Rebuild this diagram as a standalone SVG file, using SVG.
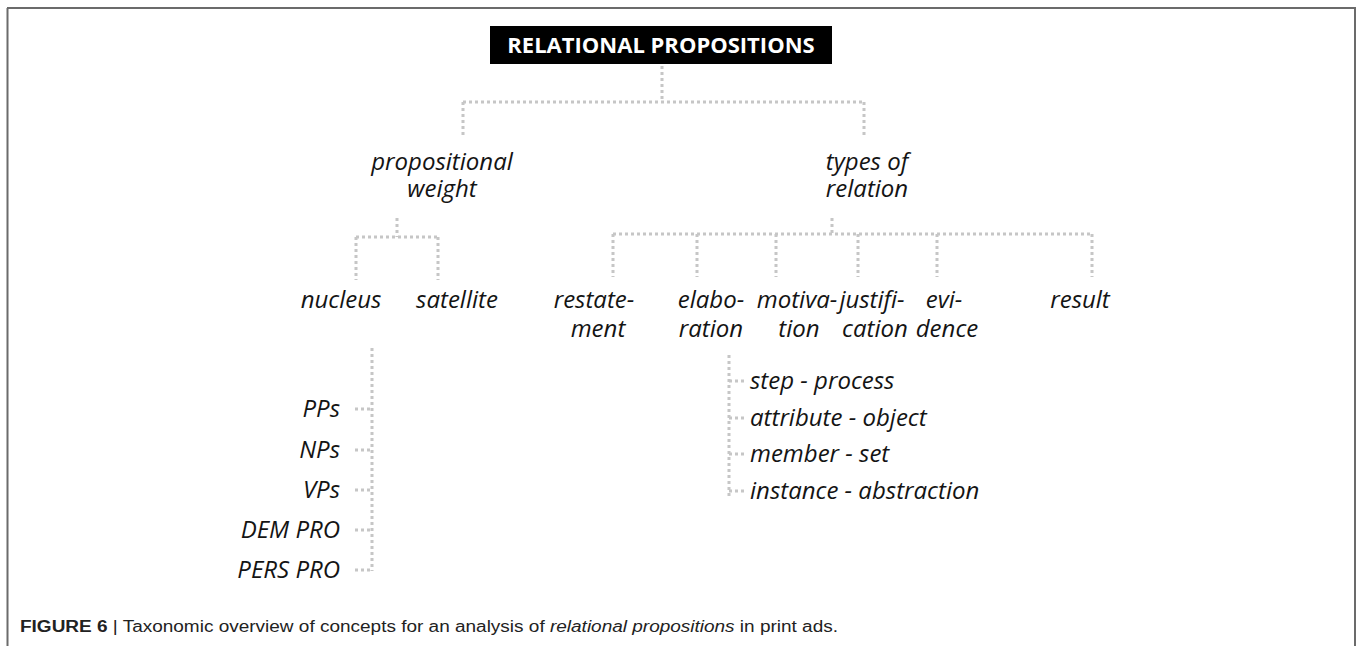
<svg xmlns="http://www.w3.org/2000/svg" width="1357" height="646" viewBox="0 0 1357 646">
  <style>
    .frame { stroke: #6b6b6b; stroke-width: 2; fill: none; }
    .dot { stroke: #c6c6c6; stroke-width: 3; stroke-dasharray: 3 3; fill: none; }
    .lbl { font-family: "Open Sans", "Noto Sans", sans-serif; font-style: italic; font-size: 24px; fill: #141414; }
    .mid { text-anchor: middle; }
    .end { text-anchor: end; }
    .title { font-family: "Open Sans", "Noto Sans", sans-serif; font-weight: bold; font-size: 22px; fill: #ffffff; text-anchor: middle; }
    .cap { font-family: "Liberation Sans", Arial, sans-serif; font-size: 16px; fill: #222222; }
  </style>

  <!-- page frame -->
  <g id="frame">
    <line class="frame" x1="7" y1="8" x2="1356" y2="8" stroke="#444"/>
    <line class="frame" x1="7.5" y1="8" x2="7.5" y2="646"/>
    <line class="frame" x1="1355" y1="8" x2="1355" y2="646"/>
  </g>

  <!-- dotted tree connectors -->
  <g id="connectors">
    <!-- root split -->
    <path class="dot" d="M662 66 V102 M463 102 H864 M463 102 V138 M864 102 V138"/>
    <!-- propositional weight -> nucleus / satellite -->
    <path class="dot" d="M397 218 V237 M356 237 H438 M356 237 V280 M438 237 V280"/>
    <!-- types of relation -> six relations -->
    <path class="dot" d="M832 218 V234 M613 234 H1092 M613 234 V277 M697 234 V277 M776 234 V277 M858 234 V277 M937 234 V277 M1092 234 V277"/>
    <!-- nucleus -> phrase types -->
    <path class="dot" d="M372 348 V571 M355 409 H372 M355 450 H372 M355 490 H372 M355 530 H372 M355 570 H372"/>
    <!-- elaboration -> subtypes -->
    <path class="dot" d="M729 355 V498 M729 381 H745 M729 418 H745 M729 454 H745 M729 491 H745"/>
  </g>

  <g id="root">
    <rect x="490" y="26" width="342" height="38" fill="#000"/>
    <text class="title" x="661" y="53">RELATIONAL PROPOSITIONS</text>
  </g>

  <g id="propositional-weight">
    <text class="lbl mid" x="442" y="170">propositional</text>
    <text class="lbl mid" x="442" y="197">weight</text>
  </g>
  <g id="types-of-relation">
    <text class="lbl mid" x="867" y="170">types of</text>
    <text class="lbl mid" x="867" y="197">relation</text>
  </g>

  <g id="nucleus"><text class="lbl mid" x="341" y="308">nucleus</text></g>
  <g id="satellite"><text class="lbl mid" x="457" y="308">satellite</text></g>

  <g id="restatement">
    <text class="lbl mid" x="594" y="308">restate-</text>
    <text class="lbl mid" x="598" y="337">ment</text>
  </g>
  <g id="elaboration">
    <text class="lbl mid" x="711" y="308">elabo-</text>
    <text class="lbl mid" x="711" y="337">ration</text>
  </g>
  <g id="motivation">
    <text class="lbl mid" x="797" y="308">motiva-</text>
    <text class="lbl mid" x="799" y="337">tion</text>
  </g>
  <g id="justification">
    <text class="lbl mid" x="872" y="308">justifi-</text>
    <text class="lbl mid" x="875" y="337">cation</text>
  </g>
  <g id="evidence">
    <text class="lbl mid" x="944" y="308">evi-</text>
    <text class="lbl mid" x="947" y="337">dence</text>
  </g>
  <g id="result"><text class="lbl mid" x="1080" y="308">result</text></g>

  <g id="pps"><text class="lbl end" x="340" y="417">PPs</text></g>
  <g id="nps"><text class="lbl end" x="340" y="458">NPs</text></g>
  <g id="vps"><text class="lbl end" x="340" y="498">VPs</text></g>
  <g id="dem-pro"><text class="lbl end" x="340" y="538">DEM PRO</text></g>
  <g id="pers-pro"><text class="lbl end" x="340" y="578">PERS PRO</text></g>

  <g id="step-process"><text class="lbl" x="750" y="389">step - process</text></g>
  <g id="attribute-object"><text class="lbl" x="750" y="426">attribute - object</text></g>
  <g id="member-set"><text class="lbl" x="750" y="462">member - set</text></g>
  <g id="instance-abstraction"><text class="lbl" x="750" y="499">instance - abstraction</text></g>

  <g id="caption">
    <text class="cap" x="20" y="632" textLength="818" lengthAdjust="spacingAndGlyphs"><tspan font-weight="bold">FIGURE 6</tspan> | Taxonomic overview of concepts for an analysis of <tspan font-style="italic">relational propositions</tspan> in print ads.</text>
  </g>
</svg>
